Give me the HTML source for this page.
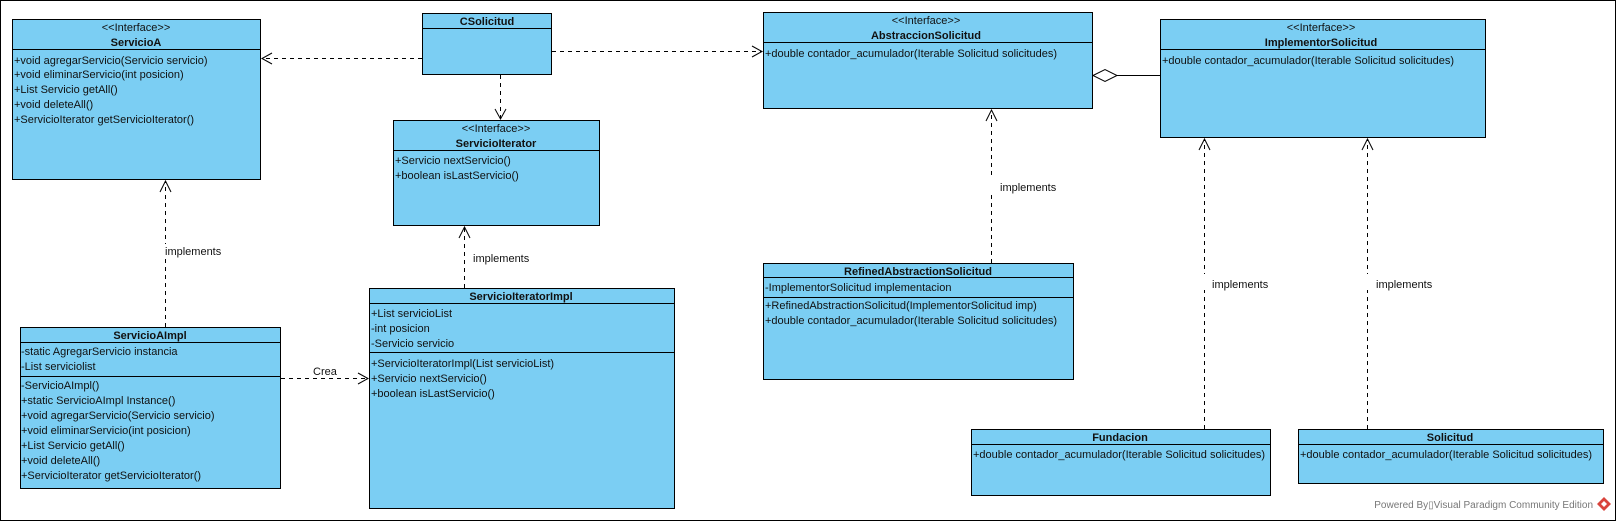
<!DOCTYPE html>
<html><head><meta charset="utf-8"><style>
html,body{margin:0;padding:0;background:#fff}
svg{display:block}
text{font-family:"Liberation Sans",Arial,sans-serif;font-size:11px;fill:#111}
.b{font-weight:bold}
.box{fill:#7bcef3;stroke:#000;stroke-width:1}
.ln{stroke:#000;stroke-width:1}
.d{stroke:#000;stroke-width:1;stroke-dasharray:4,4;fill:none}
.ah{stroke:#000;stroke-width:1;fill:none}
</style></head><body>
<svg width="1617" height="522" viewBox="0 0 1617 522" xmlns="http://www.w3.org/2000/svg">
<rect x="0.5" y="0.5" width="1615" height="520" fill="#fff" stroke="#000"/>

<!-- ServicioA -->
<rect class="box" x="12.5" y="19.5" width="248" height="160"/>
<line class="ln" x1="12" y1="49.5" x2="261" y2="49.5"/>
<text x="136" y="31" text-anchor="middle">&lt;&lt;Interface&gt;&gt;</text>
<text x="136" y="46" text-anchor="middle" class="b">ServicioA</text>
<text x="14" y="64">+void agregarServicio(Servicio servicio)</text>
<text x="14" y="78">+void eliminarServicio(int posicion)</text>
<text x="14" y="93">+List Servicio getAll()</text>
<text x="14" y="108">+void deleteAll()</text>
<text x="14" y="123">+ServicioIterator getServicioIterator()</text>

<!-- CSolicitud -->
<rect class="box" x="422.5" y="13.5" width="129" height="61"/>
<line class="ln" x1="422" y1="28.5" x2="552" y2="28.5"/>
<text x="487" y="25" text-anchor="middle" class="b">CSolicitud</text>

<!-- ServicioIterator -->
<rect class="box" x="393.5" y="120.5" width="206" height="105"/>
<line class="ln" x1="393" y1="150.5" x2="600" y2="150.5"/>
<text x="496" y="132" text-anchor="middle">&lt;&lt;Interface&gt;&gt;</text>
<text x="496" y="147" text-anchor="middle" class="b">ServicioIterator</text>
<text x="395" y="164">+Servicio nextServicio()</text>
<text x="395" y="179">+boolean isLastServicio()</text>

<!-- ServicioAImpl -->
<rect class="box" x="20.5" y="327.5" width="260" height="161"/>
<line class="ln" x1="20" y1="342.5" x2="281" y2="342.5"/>
<line class="ln" x1="20" y1="376.5" x2="281" y2="376.5"/>
<text x="150" y="339" text-anchor="middle" class="b">ServicioAImpl</text>
<text x="21" y="355">-static AgregarServicio instancia</text>
<text x="21" y="370">-List serviciolist</text>
<text x="21" y="389">-ServicioAImpl()</text>
<text x="21" y="404">+static ServicioAImpl Instance()</text>
<text x="21" y="419">+void agregarServicio(Servicio servicio)</text>
<text x="21" y="434">+void eliminarServicio(int posicion)</text>
<text x="21" y="449">+List Servicio getAll()</text>
<text x="21" y="464">+void deleteAll()</text>
<text x="21" y="479">+ServicioIterator getServicioIterator()</text>

<!-- ServicioIteratorImpl -->
<rect class="box" x="369.5" y="288.5" width="305" height="220"/>
<line class="ln" x1="369" y1="303.5" x2="675" y2="303.5"/>
<line class="ln" x1="369" y1="352.5" x2="675" y2="352.5"/>
<text x="521" y="300" text-anchor="middle" class="b">ServicioIteratorImpl</text>
<text x="371" y="317">+List servicioList</text>
<text x="371" y="332">-int posicion</text>
<text x="371" y="347">-Servicio servicio</text>
<text x="371" y="367">+ServicioIteratorImpl(List servicioList)</text>
<text x="371" y="382">+Servicio nextServicio()</text>
<text x="371" y="397">+boolean isLastServicio()</text>

<!-- AbstraccionSolicitud -->
<rect class="box" x="763.5" y="12.5" width="329" height="96"/>
<line class="ln" x1="763" y1="42.5" x2="1093" y2="42.5"/>
<text x="926" y="24" text-anchor="middle">&lt;&lt;Interface&gt;&gt;</text>
<text x="926" y="39" text-anchor="middle" class="b">AbstraccionSolicitud</text>
<text x="765" y="57">+double contador_acumulador(Iterable Solicitud solicitudes)</text>

<!-- ImplementorSolicitud -->
<rect class="box" x="1160.5" y="19.5" width="325" height="118"/>
<line class="ln" x1="1160" y1="49.5" x2="1486" y2="49.5"/>
<text x="1321" y="31" text-anchor="middle">&lt;&lt;Interface&gt;&gt;</text>
<text x="1321" y="46" text-anchor="middle" class="b">ImplementorSolicitud</text>
<text x="1162" y="64">+double contador_acumulador(Iterable Solicitud solicitudes)</text>

<!-- RefinedAbstractionSolicitud -->
<rect class="box" x="763.5" y="263.5" width="310" height="116"/>
<line class="ln" x1="763" y1="277.5" x2="1074" y2="277.5"/>
<line class="ln" x1="763" y1="297.5" x2="1074" y2="297.5"/>
<text x="918" y="275" text-anchor="middle" class="b">RefinedAbstractionSolicitud</text>
<text x="765" y="291">-ImplementorSolicitud implementacion</text>
<text x="765" y="309">+RefinedAbstractionSolicitud(ImplementorSolicitud imp)</text>
<text x="765" y="324">+double contador_acumulador(Iterable Solicitud solicitudes)</text>

<!-- Fundacion -->
<rect class="box" x="971.5" y="429.5" width="299" height="66"/>
<line class="ln" x1="971" y1="444.5" x2="1271" y2="444.5"/>
<text x="1120" y="441" text-anchor="middle" class="b">Fundacion</text>
<text x="973" y="458">+double contador_acumulador(Iterable Solicitud solicitudes)</text>

<!-- Solicitud -->
<rect class="box" x="1298.5" y="429.5" width="305" height="54"/>
<line class="ln" x1="1298" y1="444.5" x2="1604" y2="444.5"/>
<text x="1450" y="441" text-anchor="middle" class="b">Solicitud</text>
<text x="1300" y="458">+double contador_acumulador(Iterable Solicitud solicitudes)</text>

<!-- Connectors -->
<!-- CSolicitud -> ServicioA -->
<line class="d" x1="422" y1="58.5" x2="262" y2="58.5"/>
<polyline class="ah" points="272,53 262,58.5 272,64"/>
<!-- CSolicitud -> ServicioIterator -->
<line class="d" x1="500.5" y1="75" x2="500.5" y2="119"/>
<polyline class="ah" points="495,109 500.5,119 506,109"/>
<!-- CSolicitud -> Abstraccion -->
<line class="d" x1="552" y1="51.5" x2="762" y2="51.5"/>
<polyline class="ah" points="752,46 762,51.5 752,57"/>
<!-- aggregation -->
<polygon points="1093,75.5 1105,69.5 1117,75.5 1105,81.5" fill="#fff" stroke="#000"/>
<line class="ln" x1="1117" y1="75.5" x2="1160" y2="75.5"/>
<!-- ServicioAImpl -> ServicioA -->
<line class="d" x1="165.5" y1="327" x2="165.5" y2="181"/>
<polyline class="ah" points="160,192 165.5,181 171,192"/>
<rect x="160" y="244" width="60" height="14" fill="#fff"/>
<text x="165" y="255">implements</text>
<!-- ServicioIteratorImpl -> ServicioIterator -->
<line class="d" x1="464.5" y1="288" x2="464.5" y2="227"/>
<polyline class="ah" points="459,238 464.5,227 470,238"/>
<text x="473" y="262">implements</text>
<!-- Crea -->
<line class="d" x1="281" y1="378.5" x2="368" y2="378.5"/>
<polyline class="ah" points="358,373 368,378.5 358,384"/>
<text x="313" y="375">Crea</text>
<!-- Refined -> Abstraccion -->
<line class="d" x1="991.5" y1="263" x2="991.5" y2="110"/>
<polyline class="ah" points="986,121 991.5,110 997,121"/>
<rect x="990" y="176" width="60" height="16" fill="#fff"/>
<text x="1000" y="191">implements</text>
<!-- Fundacion -> Implementor -->
<line class="d" x1="1204.5" y1="429" x2="1204.5" y2="139"/>
<polyline class="ah" points="1199,150 1204.5,139 1210,150"/>
<rect x="1200" y="274" width="60" height="16" fill="#fff"/>
<text x="1212" y="288">implements</text>
<!-- Solicitud -> Implementor -->
<line class="d" x1="1367.5" y1="429" x2="1367.5" y2="139"/>
<polyline class="ah" points="1362,150 1367.5,139 1373,150"/>
<rect x="1362" y="274" width="60" height="16" fill="#fff"/>
<text x="1376" y="288">implements</text>

<!-- watermark -->
<text x="1593" y="508" text-anchor="end" style="font-size:10px;fill:#777">Powered By&#x25AF;Visual Paradigm Community Edition</text>
<polygon points="1604,497 1611,504 1604,511 1597,504" fill="#d9443c"/>
<polygon points="1604,501 1607,504 1604,507 1601,504" fill="#fff"/>
</svg>
</body></html>
